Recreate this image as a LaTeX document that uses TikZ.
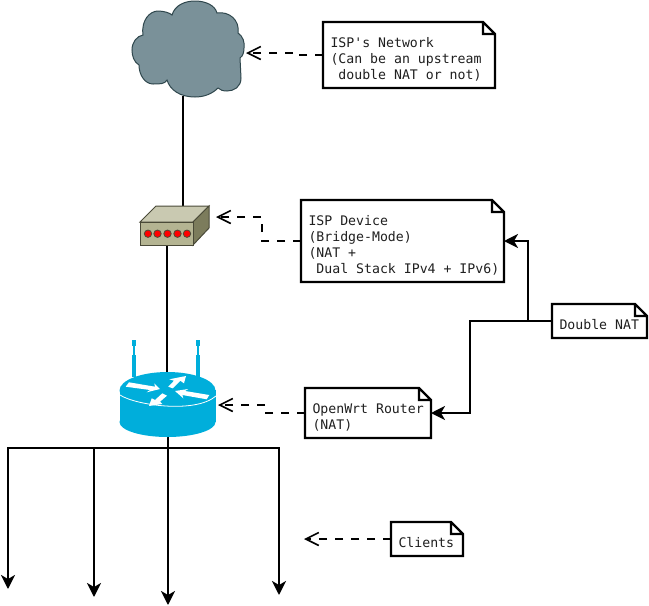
\documentclass[tikz,border=0pt]{standalone}
\usepackage{fontspec}
\newfontfamily\notefont{DejaVu Sans Mono}
\usetikzlibrary{arrows.meta}
\definecolor{cloudfill}{HTML}{7A9199}
\definecolor{cloudedge}{HTML}{2F474D}
\definecolor{wrt}{HTML}{00AEDB}
\definecolor{boxfront}{HTML}{B4B492}
\definecolor{boxtop}{HTML}{C9C9B1}
\definecolor{boxside}{HTML}{7C7C5C}
\definecolor{boxedge}{HTML}{4A4A38}
\newcommand{\notefirst}{\leavevmode\setlength{\spaceskip}{7.95pt}\vrule width 0pt height 25pt depth 0pt\relax}
\newcommand{\notelast}{\vrule width 0pt height 0pt depth 9pt\relax}
\newcommand{\notetype}{\notefont\fontsize{13.2}{16}\selectfont\hfuzz=20pt\relax}
\tikzset{
  notebox/.style={fill=white,inner xsep=7.5pt,inner ysep=0pt,outer sep=0pt,align=left,
    font=\notetype,text=black!88},
  noteline/.style={draw=black,line width=2.2pt,line join=miter},
  link/.style={draw=black,line width=2.2pt},
  solidarrow/.style={link,-{Stealth[length=14pt,width=14pt,inset=4pt]}},
  openarrow/.style={draw=black,line width=2.2pt,dash pattern=on 8pt off 8pt,
    -{Straight Barb[length=13pt,width=13pt,line width=1.6pt]}},
  icon/.style={inner sep=0pt,outer sep=0pt,draw=none},
  led/.style={fill=red,draw=boxedge,line width=0.8pt},
  whitearrow/.style={fill=white,draw=none}
}
\begin{document}
\begin{tikzpicture}[x=1pt,y=-1pt]
\useasboundingbox (0,0) rectangle (649,606);
% placeholders for the devices
\node[icon,minimum width=113pt,minimum height=96pt] (cloud) at (188.5,49) {};
\node[icon,minimum width=69pt,minimum height=39pt] (device) at (174.5,225.5) {};
\node[icon,minimum width=96pt,minimum height=65pt] (router) at (167.5,404.5) {};
% connection points
\coordinate (cloudport) at (183,96);
\coordinate (devtop) at (183,210);
\coordinate (devbot) at (167,245);
\coordinate (rtop) at (167,375);
\coordinate (rbot) at (168,436);
\coordinate (busmid) at (168,448);
\coordinate (busl) at (8,448);
\coordinate (busa) at (94,448);
\coordinate (busr) at (279,448);
\coordinate (c1) at (8,589);
\coordinate (c2) at (94,597);
\coordinate (c3) at (168,605);
\coordinate (c4) at (279,595);
\coordinate (cloudtip) at (246,53);
\coordinate (devtip) at (216,217);
\coordinate (rtip) at (218,405);
\coordinate (clienttip) at (304,539);
\coordinate (jright) at (528,321);
\coordinate (jleft) at (470,367);
% links
\draw[link] (cloudport) -- (devtop);
\draw[link] (devbot) -- (rtop);
\draw[link] (rbot) -- (busmid);
\draw[link,line cap=rect] (busl) -- (busr);
\draw[solidarrow] (busl) -- (c1);
\draw[solidarrow] (busa) -- (c2);
\draw[solidarrow] (busmid) -- (c3);
\draw[solidarrow] (busr) -- (c4);
% cloud
\path[fill=cloudfill,draw=cloudedge,line width=1pt]
  (172,15) .. controls (175,5) and (185,1) .. (195,1)
  .. controls (205,1) and (215,5) .. (217,13)
  .. controls (229,11) and (240,20) .. (238,33)
  .. controls (243,36) and (245,43) .. (244,48)
  .. controls (244,52) and (243,56) .. (240,58)
  -- (241,78)
  .. controls (241,87) and (234,91) .. (227,91)
  .. controls (223,91) and (220,90) .. (218,88)
  .. controls (212,94) and (204,97) .. (195,97)
  .. controls (180,97) and (170,90) .. (167,80)
  .. controls (165,84) and (160,84) .. (153,84)
  .. controls (145,84) and (139,75) .. (139,65)
  .. controls (134,62) and (132,56) .. (132,50)
  .. controls (132,42) and (137,36) .. (143,35)
  .. controls (141,20) and (150,11) .. (158,11)
  .. controls (164,11) and (170,13) .. (172,15) -- cycle;
% ISP device
\path[fill=boxtop,draw=boxedge,line width=1pt] (140,222) -- (156,206) -- (209,206) -- (193,222) -- cycle;
\path[fill=boxside,draw=boxedge,line width=1pt] (193,222) -- (209,206) -- (209,228) -- (193,245) -- cycle;
\path[fill=boxfront,draw=boxedge,line width=1pt] (140,222) rectangle (193,245);
\foreach \lx in {148,157.5,167.5,177.5,187}
  \path[led] (\lx,233.7) circle (3.7pt);
% router antennas
\foreach \ax in {134,198} {
  \fill[wrt] (\ax-2,340) rectangle (\ax+2,346);
  \fill[wrt] (\ax-0.7,346) rectangle (\ax+0.7,355);
  \fill[wrt] (\ax-2,355) rectangle (\ax+2,377);
}
% router body
\fill[wrt] (119.5,390) rectangle (215.5,422);
\fill[wrt] (167.5,422) ellipse (48pt and 15pt);
\fill[wrt] (167.5,390.5) ellipse (48pt and 18.5pt);
\draw[white,line width=0.8pt] (120,395) .. controls (135,405) and (195,414) .. (216,396);
\fill[whitearrow] (125.7,386.7) -- (129,382.3) -- (155,386.7) -- (154.3,383.3) -- (160,389) -- (146.7,392.3) -- (150,390) -- cycle;
\fill[whitearrow] (172.7,388.3) -- (168.3,386.7) -- (174,380.7) -- (169.3,379.3) -- (186,376) -- (184,383.3) -- (180.3,380.7) -- cycle;
\fill[whitearrow] (175,391) -- (188.3,389) -- (185,391) -- (209.3,395) -- (206.7,399.3) -- (182.3,395) -- (183.3,398.3) -- cycle;
\fill[whitearrow] (149,406) -- (151.7,398.3) -- (155,400) -- (162.3,393.3) -- (167,395.7) -- (160,401.7) -- (162.3,404) -- cycle;
% notes
\node[notebox,minimum width=172pt,minimum height=66pt,text width=157pt] (ispnet) at (409,55)
  {\notefirst ISP's Network\\(Can be an upstream\\~double NAT or not)\notelast};
\node[notebox,minimum width=203pt,minimum height=82pt,text width=188pt] (ispdev) at (402.5,241)
  {\notefirst ISP Device\\(Bridge-Mode)\\(NAT +\\\mbox{~Dual Stack IPv4 + IPv6)}\notelast};
\node[notebox,minimum width=95pt,minimum height=34pt,text width=80pt] (dnat) at (599.5,321)
  {\notefirst \mbox{Double NAT}\notelast};
\node[notebox,minimum width=126pt,minimum height=50pt,text width=111pt] (rnote) at (368,413)
  {\notefirst \mbox{OpenWrt Router}\\(NAT)\notelast};
\node[notebox,minimum width=72pt,minimum height=34pt,text width=57pt] (clients) at (427,539)
  {\notefirst Clients\notelast};
\foreach \n in {ispnet,ispdev,dnat,rnote,clients}
  \draw[noteline] (\n.north west) -- ([xshift=-12pt]\n.north east) -- ([yshift=-12pt]\n.north east)
    -- (\n.south east) -- (\n.south west) -- cycle
    ([xshift=-12pt]\n.north east) -- ([xshift=-12pt,yshift=-12pt]\n.north east) -- ([yshift=-12pt]\n.north east);
% dashed callouts
\draw[openarrow] (ispnet.west) -- (295,55) -- (295,53) -- (cloudtip);
\draw[openarrow] (ispdev.west) -| (262,217) -- (devtip);
\draw[openarrow] (rnote.west) -| (266,405) -- (rtip);
\draw[openarrow] (clients.west) -- (clienttip);
% double NAT
\draw[solidarrow] (dnat.west) -- (jright) |- (ispdev.east);
\draw[solidarrow] (dnat.west) -| (jleft) |- (rnote.east);
\end{tikzpicture}
\end{document}
